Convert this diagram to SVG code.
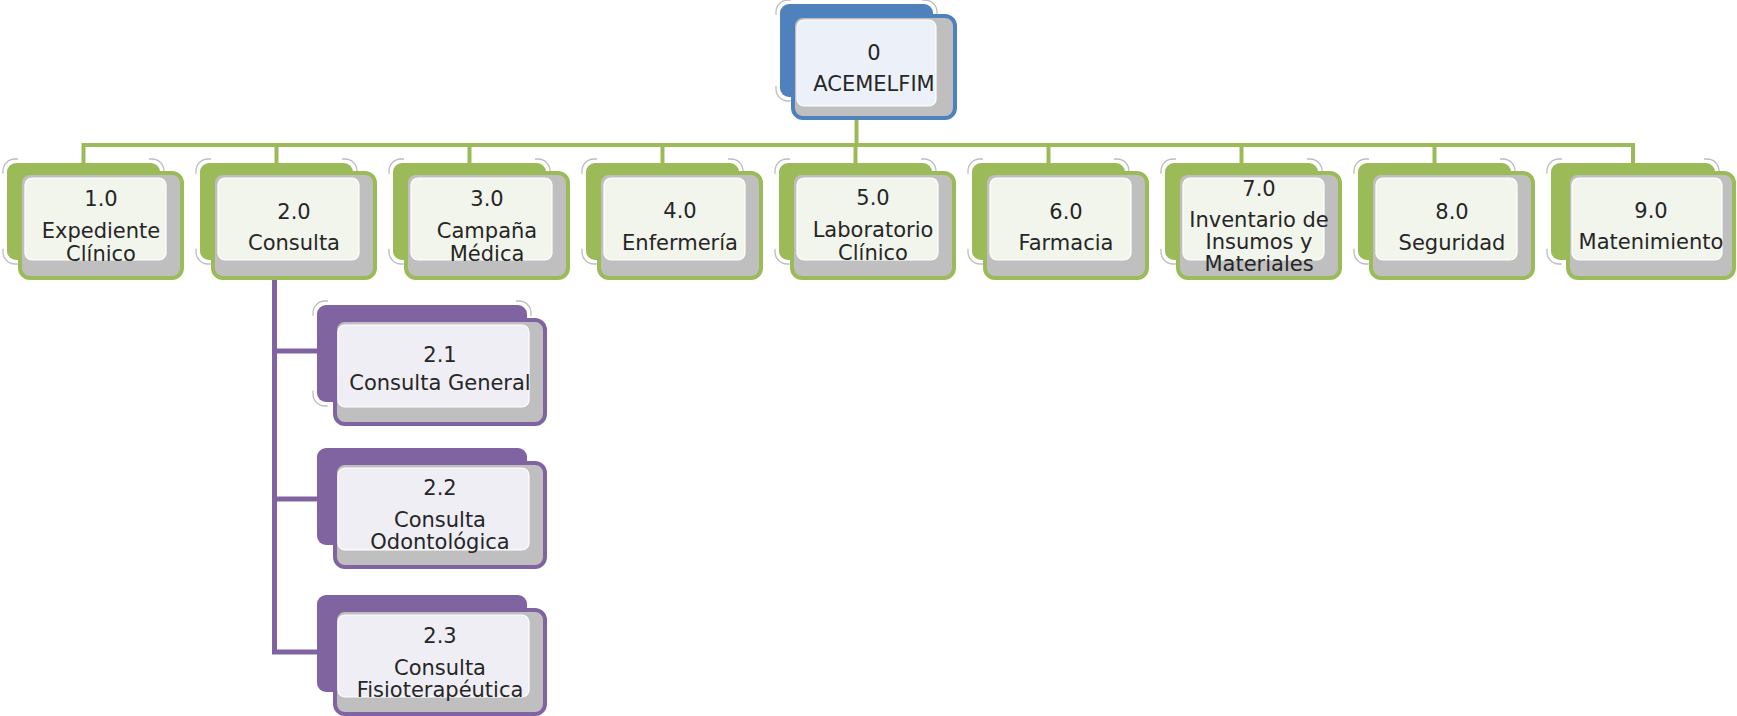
<svg xmlns="http://www.w3.org/2000/svg" width="1737" height="716" viewBox="0 0 1737 716">
<style>
.t{font-family:"DejaVu Sans","Liberation Sans",sans-serif;font-size:21px;fill:#262626;text-anchor:middle}
.halo{fill:none;stroke:#bdbdbd;stroke-width:1.3}
.gb{fill:#9BBB59}
.gf{fill:#BFBFBF;stroke:#9BBB59;stroke-width:4}
.gi{fill:#F2F5EC;stroke:#ffffff;stroke-width:1.2}
.bb{fill:#4F81BD}
.bf{fill:#BFBFBF;stroke:#4F81BD;stroke-width:4}
.bi{fill:#ECF0F8;stroke:#ffffff;stroke-width:1.2}
.pb{fill:#8064A2}
.pf{fill:#BFBFBF;stroke:#8064A2;stroke-width:4}
.pi{fill:#F0EEF5;stroke:#ffffff;stroke-width:1.2}
.cg{fill:none;stroke:#9BBB59;stroke-width:4}
.cp{fill:none;stroke:#8064A2;stroke-width:5}
.h1{stroke-dasharray:24.85 75 24.85 131 24.85 75 24.85 131;stroke-dashoffset:-134}
</style>
<g id="connectors">
<path class="cg" d="M856.5,118 V145"/>
<path class="cg" d="M83.5,163 V145 H1633 V163"/>
<path class="cg" d="M276.5,145 V163 M469.5,145 V163 M662.5,145 V163 M855.5,145 V163 M1048.5,145 V163 M1241.5,145 V163 M1434.5,145 V163"/>
<path class="cp" d="M274.5,278 V652 H317 M274.5,351 H317 M274.5,499 H317"/>
</g>
<g id="node-0">
<rect class="halo" x="776" y="0" width="161" height="101" rx="12" style="stroke-dasharray:24.85 71 24.85 131 24.85 71 24.85 131;stroke-dashoffset:-134"/>
<rect class="bb" x="780" y="4" width="153" height="93" rx="9"/>
<rect class="bf" x="793" y="16" width="162" height="102" rx="10"/>
<rect class="bi" x="797" y="20" width="139" height="86" rx="7"/>
<text class="t" x="874" y="60">0</text>
<text class="t" x="874" y="91">ACEMELFIM</text>
</g>
<g id="node-1">
<rect class="halo h1" x="3" y="159" width="161" height="105" rx="12"/>
<rect class="gb" x="7" y="163" width="153" height="97" rx="9"/>
<rect class="gf" x="20" y="173" width="162" height="105" rx="10"/>
<rect class="gi" x="25" y="178" width="141" height="82" rx="7"/>
<text class="t" x="101" y="206">1.0</text>
<text class="t" x="101" y="238">Expediente</text>
<text class="t" x="101" y="261">Clínico</text>
</g>
<g id="node-2">
<rect class="halo h1" x="196" y="159" width="161" height="105" rx="12"/>
<rect class="gb" x="200" y="163" width="153" height="97" rx="9"/>
<rect class="gf" x="213" y="173" width="162" height="105" rx="10"/>
<rect class="gi" x="218" y="178" width="141" height="82" rx="7"/>
<text class="t" x="294" y="219">2.0</text>
<text class="t" x="294" y="250">Consulta</text>
</g>
<g id="node-3">
<rect class="halo h1" x="389" y="159" width="161" height="105" rx="12"/>
<rect class="gb" x="393" y="163" width="153" height="97" rx="9"/>
<rect class="gf" x="406" y="173" width="162" height="105" rx="10"/>
<rect class="gi" x="411" y="178" width="141" height="82" rx="7"/>
<text class="t" x="487" y="206">3.0</text>
<text class="t" x="487" y="238">Campaña</text>
<text class="t" x="487" y="261">Médica</text>
</g>
<g id="node-4">
<rect class="halo h1" x="582" y="159" width="161" height="105" rx="12"/>
<rect class="gb" x="586" y="163" width="153" height="97" rx="9"/>
<rect class="gf" x="599" y="173" width="162" height="105" rx="10"/>
<rect class="gi" x="604" y="178" width="141" height="82" rx="7"/>
<text class="t" x="680" y="218">4.0</text>
<text class="t" x="680" y="250">Enfermería</text>
</g>
<g id="node-5">
<rect class="halo h1" x="775" y="159" width="161" height="105" rx="12"/>
<rect class="gb" x="779" y="163" width="153" height="97" rx="9"/>
<rect class="gf" x="792" y="173" width="162" height="105" rx="10"/>
<rect class="gi" x="797" y="178" width="141" height="82" rx="7"/>
<text class="t" x="873" y="205">5.0</text>
<text class="t" x="873" y="237">Laboratorio</text>
<text class="t" x="873" y="260">Clínico</text>
</g>
<g id="node-6">
<rect class="halo h1" x="968" y="159" width="161" height="105" rx="12"/>
<rect class="gb" x="972" y="163" width="153" height="97" rx="9"/>
<rect class="gf" x="985" y="173" width="162" height="105" rx="10"/>
<rect class="gi" x="990" y="178" width="141" height="82" rx="7"/>
<text class="t" x="1066" y="219">6.0</text>
<text class="t" x="1066" y="250">Farmacia</text>
</g>
<g id="node-7">
<rect class="halo h1" x="1161" y="159" width="161" height="105" rx="12"/>
<rect class="gb" x="1165" y="163" width="153" height="97" rx="9"/>
<rect class="gf" x="1178" y="173" width="162" height="105" rx="10"/>
<rect class="gi" x="1183" y="178" width="141" height="82" rx="7"/>
<text class="t" x="1259" y="196">7.0</text>
<text class="t" x="1259" y="227">Inventario de</text>
<text class="t" x="1259" y="249">Insumos y</text>
<text class="t" x="1259" y="271">Materiales</text>
</g>
<g id="node-8">
<rect class="halo h1" x="1354" y="159" width="161" height="105" rx="12"/>
<rect class="gb" x="1358" y="163" width="153" height="97" rx="9"/>
<rect class="gf" x="1371" y="173" width="162" height="105" rx="10"/>
<rect class="gi" x="1376" y="178" width="141" height="82" rx="7"/>
<text class="t" x="1452" y="219">8.0</text>
<text class="t" x="1452" y="250">Seguridad</text>
</g>
<g id="node-9">
<rect class="halo" x="1547" y="159" width="172" height="105" rx="12" style="stroke-dasharray:24.85 75 24.85 142 24.85 75 24.85 142;stroke-dashoffset:-145"/>
<rect class="gb" x="1551" y="163" width="164" height="97" rx="9"/>
<rect class="gf" x="1568" y="173" width="166" height="105" rx="10"/>
<rect class="gi" x="1572" y="178" width="150" height="82" rx="7"/>
<text class="t" x="1651" y="218">9.0</text>
<text class="t" x="1651" y="249">Matenimiento</text>
</g>
<g id="node-2-1">
<rect class="halo" x="313" y="301" width="218" height="105" rx="12" style="stroke-dasharray:24.85 75 24.85 188 24.85 75 24.85 188;stroke-dashoffset:-191"/>
<rect class="pb" x="317" y="305" width="210" height="97" rx="9"/>
<rect class="pf" x="335" y="320" width="210" height="104" rx="10"/>
<rect class="pi" x="338" y="325" width="191" height="82" rx="7"/>
<text class="t" x="440" y="362">2.1</text>
<text class="t" x="440" y="390">Consulta General</text>
</g>
<g id="node-2-2">
<rect class="pb" x="317" y="448" width="210" height="97" rx="9"/>
<rect class="pf" x="335" y="463" width="210" height="104" rx="10"/>
<rect class="pi" x="338" y="468" width="191" height="82" rx="7"/>
<text class="t" x="440" y="495">2.2</text>
<text class="t" x="440" y="527">Consulta</text>
<text class="t" x="440" y="549">Odontológica</text>
</g>
<g id="node-2-3">
<rect class="pb" x="317" y="595" width="210" height="97" rx="9"/>
<rect class="pf" x="335" y="610" width="210" height="104" rx="10"/>
<rect class="pi" x="338" y="615" width="191" height="82" rx="7"/>
<text class="t" x="440" y="643">2.3</text>
<text class="t" x="440" y="675">Consulta</text>
<text class="t" x="440" y="697">Fisioterapéutica</text>
</g>
</svg>
